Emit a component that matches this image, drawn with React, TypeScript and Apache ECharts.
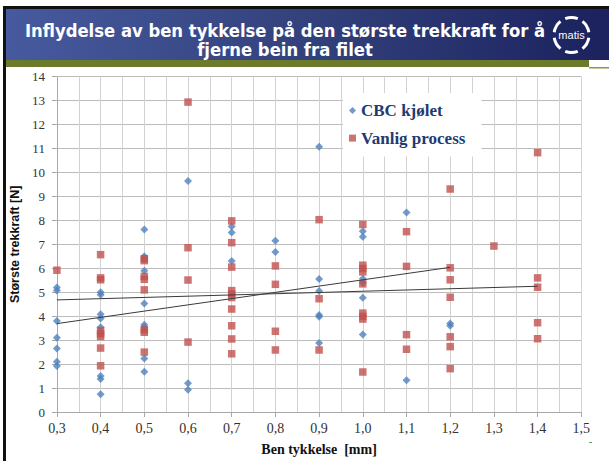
import React, { useEffect, useRef } from "react";
import * as echarts from "echarts";

// ---- data ----
const titleLine1 = "Inflydelse av ben tykkelse på den største trekkraft for å";
const titleLine2 = "fjerne bein fra filet";
const xAxisName = "Ben tykkelse  [mm]";
const yAxisName = "Største trekkraft [N]";
const seriesNames = ["CBC kjølet", "Vanlig process"];

const cbcData: [number, number][] = [
  [0.3, 5.2], [0.3, 5.07], [0.3, 3.8], [0.3, 3.1], [0.3, 2.65], [0.3, 2.1], [0.3, 1.92],
  [0.4, 5.0], [0.4, 4.9], [0.4, 4.08], [0.4, 3.9], [0.4, 3.54], [0.4, 1.5], [0.4, 1.38], [0.4, 0.74],
  [0.5, 7.62], [0.5, 6.5], [0.5, 5.9], [0.5, 4.53], [0.5, 3.64], [0.5, 3.55], [0.5, 2.23], [0.5, 1.68],
  [0.6, 9.65], [0.6, 1.2], [0.6, 0.93],
  [0.7, 7.75], [0.7, 7.5], [0.7, 6.3],
  [0.8, 7.15], [0.8, 6.68],
  [0.9, 11.08], [0.9, 5.55], [0.9, 5.05], [0.9, 4.05], [0.9, 3.98], [0.9, 2.88],
  [1.0, 7.55], [1.0, 7.32], [1.0, 5.56], [1.0, 5.4], [1.0, 4.77], [1.0, 3.24],
  [1.1, 8.33], [1.1, 1.33],
  [1.2, 3.7], [1.2, 3.6],
];

const vanligData: [number, number][] = [
  [0.3, 5.92],
  [0.4, 6.57], [0.4, 5.6], [0.4, 5.52], [0.4, 3.4], [0.4, 3.27], [0.4, 3.15], [0.4, 2.67], [0.4, 1.93],
  [0.5, 6.4], [0.5, 6.32], [0.5, 5.66], [0.5, 5.54], [0.5, 5.1], [0.5, 3.43], [0.5, 3.33], [0.5, 2.5],
  [0.6, 12.94], [0.6, 6.86], [0.6, 5.51], [0.6, 2.92],
  [0.7, 7.98], [0.7, 7.07], [0.7, 6.05], [0.7, 5.07], [0.7, 4.93], [0.7, 4.78], [0.7, 4.3], [0.7, 3.6], [0.7, 3.05], [0.7, 2.43],
  [0.8, 6.1], [0.8, 5.33], [0.8, 3.37], [0.8, 2.59],
  [0.9, 8.03], [0.9, 4.73], [0.9, 2.59],
  [1.0, 7.83], [1.0, 6.13], [1.0, 5.99], [1.0, 5.85], [1.0, 5.35], [1.0, 4.13], [1.0, 3.99], [1.0, 3.88], [1.0, 1.67],
  [1.1, 7.53], [1.1, 6.08], [1.1, 3.23], [1.1, 2.62],
  [1.2, 9.31], [1.2, 6.02], [1.2, 5.52], [1.2, 4.79], [1.2, 3.14], [1.2, 2.73], [1.2, 1.81],
  [1.3, 6.93],
  [1.4, 10.83], [1.4, 5.6], [1.4, 5.21], [1.4, 3.73], [1.4, 3.06],
];

const cbcTrend: [number, number][] = [[0.3, 3.69], [1.2, 6.04]];
const vanligTrend: [number, number][] = [[0.3, 4.68], [1.4, 5.25]];

const xMin = 0.3, xMax = 1.5, xStep = 0.1;
const yMin = 0, yMax = 14, yStep = 1;

export default function App() {
  const ref = useRef<HTMLDivElement>(null);
  useEffect(() => {
    if (!ref.current) return;
    const chart = echarts.init(ref.current, undefined, { renderer: "svg" });

    const cx = 571.5, cy = 35, r = 17.5;
    const deg = Math.PI / 180;
    const logoCenters = [-90, -30, 30, 90, 150, 210];
    const logoArcs = logoCenters.map((c) => ({
      type: "arc",
      shape: { cx, cy, r, startAngle: (c - 21) * deg, endAngle: (c + 21) * deg, clockwise: true },
      style: { stroke: "#ffffff", lineWidth: 3, fill: "none" },
      z: 10,
    }));

    chart.setOption({
      animation: false,
      backgroundColor: "#ffffff",
      grid: { left: 55.7, right: 27.7, top: 76.7, bottom: 45.3, containLabel: false },
      legend: {
        orient: "vertical",
        left: 343,
        top: 93,
        padding: [9, 16, 10, 6],
        itemGap: 10.6,
        itemWidth: 7,
        itemHeight: 7,
        backgroundColor: "#ffffff",
        data: [
          { name: seriesNames[0], icon: "diamond" },
          { name: seriesNames[1], icon: "rect" },
        ],
        textStyle: {
          fontFamily: "Liberation Serif",
          fontWeight: "bold",
          fontSize: 17,
          color: "#1f3a73",
        },
      },
      xAxis: {
        type: "value",
        min: xMin,
        max: xMax,
        interval: xStep,
        name: xAxisName,
        nameLocation: "middle",
        nameGap: 30,
        nameTextStyle: { fontFamily: "Liberation Serif", fontWeight: "bold", fontSize: 14, color: "#111" },
        axisLine: { show: true, onZero: false, lineStyle: { color: "#a8a8a8" } },
        axisTick: { show: true, length: 5, lineStyle: { color: "#a8a8a8" } },
        axisLabel: {
          margin: 9,
          fontFamily: "Liberation Serif",
          fontSize: 14,
          color: "#333",
          formatter: (v: number) => v.toFixed(1).replace(".", ","),
        },
        splitLine: { show: true, lineStyle: { color: "#d2d2d2" } },
        minorTick: { show: false, splitNumber: 2 },
        minorSplitLine: { show: true, lineStyle: { color: "#d2d2d2" } },
      },
      yAxis: {
        type: "value",
        min: yMin,
        max: yMax,
        interval: yStep,
        name: yAxisName,
        nameLocation: "middle",
        nameGap: 32,
        nameTextStyle: { fontFamily: "Liberation Sans", fontWeight: "bold", fontSize: 12.5, color: "#111" },
        axisLine: { show: true, lineStyle: { color: "#a8a8a8" } },
        axisTick: { show: true, length: 5, lineStyle: { color: "#a8a8a8" } },
        axisLabel: { margin: 12, fontFamily: "Liberation Serif", fontSize: 13, color: "#333" },
        splitLine: { show: true, lineStyle: { color: "#bcbcbc" } },
      },
      graphic: [
        { type: "rect", shape: { x: 0, y: 0, width: 609, height: 6 }, style: { fill: "#ffffff" }, silent: true },
        { type: "rect", shape: { x: 3, y: 6, width: 606, height: 3 }, style: { fill: "#111111" }, silent: true },
        {
          type: "rect",
          shape: { x: 5, y: 9, width: 604, height: 51 },
          style: {
            fill: new echarts.graphic.LinearGradient(0, 0, 1, 0, [
              { offset: 0, color: "#475a9f" },
              { offset: 0.45, color: "#35447f" },
              { offset: 1, color: "#1b225e" },
            ]),
          },
          silent: true,
        },
        { type: "rect", shape: { x: 5, y: 60, width: 584, height: 7 }, style: { fill: "#6b7b2b" }, silent: true },
        { type: "rect", shape: { x: 589, y: 67, width: 20, height: 1.5 }, style: { fill: "#8a9a44" }, silent: true },
        { type: "rect", shape: { x: 3, y: 6, width: 3, height: 455 }, style: { fill: "#111111" }, silent: true },
        {
          type: "text",
          x: 285,
          y: 30,
          style: {
            text: titleLine1,
            fill: "#ffffff",
            font: "bold 18.3px 'DejaVu Sans Condensed', 'DejaVu Sans', sans-serif",
            textAlign: "center",
            textVerticalAlign: "middle",
          },
          z: 10,
        },
        {
          type: "text",
          x: 285,
          y: 49,
          style: {
            text: titleLine2,
            fill: "#ffffff",
            font: "bold 18.3px 'DejaVu Sans Condensed', 'DejaVu Sans', sans-serif",
            textAlign: "center",
            textVerticalAlign: "middle",
          },
          z: 10,
        },
        ...logoArcs,
        {
          type: "text",
          x: cx,
          y: cy,
          style: {
            text: "matis",
            fill: "#ffffff",
            font: "11px 'Liberation Sans', sans-serif",
            textAlign: "center",
            textVerticalAlign: "middle",
          },
          z: 10,
        },
        { type: "rect", shape: { x: 589, y: 442, width: 3, height: 1 }, style: { fill: "#4caf50" }, silent: true },
      ],
      series: [
        {
          name: seriesNames[0],
          type: "scatter",
          symbol: "diamond",
          symbolSize: 8,
          itemStyle: { color: "#4f81bd" },
          data: cbcData,
          z: 3,
        },
        {
          name: seriesNames[1],
          type: "scatter",
          symbol: "rect",
          symbolSize: 7.5,
          itemStyle: { color: "#c0504d" },
          data: vanligData,
          z: 3,
        },
        {
          name: "cbcTrend",
          type: "line",
          data: cbcTrend,
          showSymbol: false,
          symbol: "none",
          silent: true,
          lineStyle: { color: "#3a3a3a", width: 1 },
          z: 4,
        },
        {
          name: "vanligTrend",
          type: "line",
          data: vanligTrend,
          showSymbol: false,
          symbol: "none",
          silent: true,
          lineStyle: { color: "#3a3a3a", width: 1 },
          z: 4,
        },
      ],
    });
    return () => chart.dispose();
  }, []);
  return (
    <div
      ref={ref}
      style={{ position: "fixed", left: 0, top: 0, width: 609, height: 461 }}
    />
  );
}
